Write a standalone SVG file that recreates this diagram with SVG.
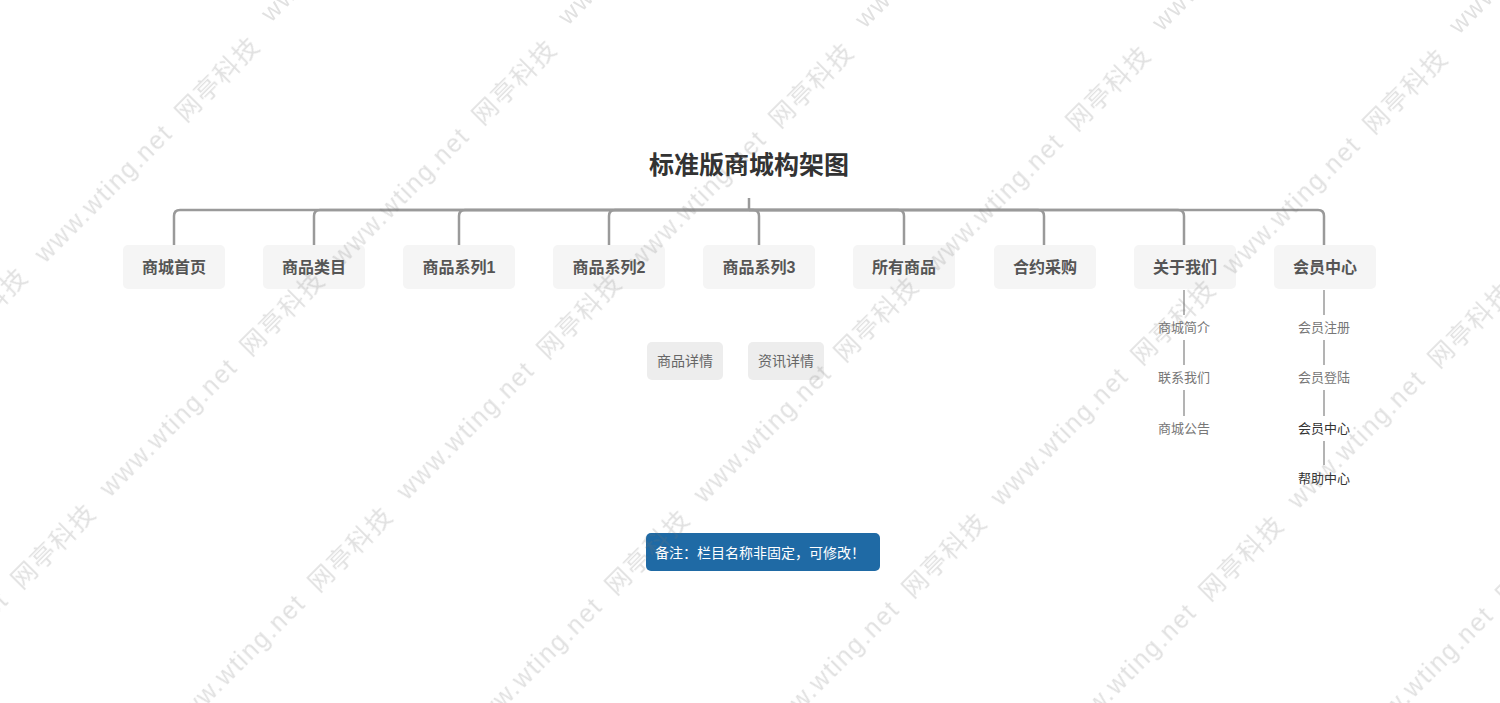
<svg xmlns="http://www.w3.org/2000/svg" xmlns:xlink="http://www.w3.org/1999/xlink" width="1500" height="703" viewBox="0 0 1500 703">
<style>
text{font-family:"Liberation Sans","Noto Sans CJK SC",sans-serif;dominant-baseline:central}
.title{font-size:25px;font-weight:bold;fill:#333;text-anchor:middle}
.box{fill:#f5f5f5}
.lbl{font-size:16px;font-weight:bold;fill:#555;text-anchor:middle}
.sbox{fill:#ededed}
.slbl{font-size:14px;fill:#666;text-anchor:middle}
.leaf{font-size:13px;fill:#777;text-anchor:middle}
.leaf.dark{fill:#333}
.conn{fill:none;stroke:#9a9a9a;stroke-width:2.5}
.thin{fill:none;stroke:#9a9a9a;stroke-width:1.5}
.note{fill:#1f6aa5}
.notet{font-size:14px;fill:#fff}
text.wmt{font-size:25px;fill:#777;dominant-baseline:alphabetic}
</style>
<defs>
<g id="wm" transform="rotate(-45)"><text class="wmt" textLength="181" lengthAdjust="spacing">www.wting.net</text><text class="wmt" x="199" textLength="106" lengthAdjust="spacing">网亭科技</text></g>
</defs>
<rect width="1500" height="703" fill="#fff"/>

<g id="title"><text class="title" x="749" y="165">标准版商城构架图</text></g>

<g id="connectors">
<path class="conn" d="M749 198V210"/>
<path class="conn" d="M749 210H180Q174 210 174 216V245"/>
<path class="conn" d="M749 210H320Q314 210 314 216V245"/>
<path class="conn" d="M749 210H465Q459 210 459 216V245"/>
<path class="conn" d="M749 210H615Q609 210 609 216V245"/>
<path class="conn" d="M749 210H753Q759 210 759 216V245"/>
<path class="conn" d="M749 210H898Q904 210 904 216V245"/>
<path class="conn" d="M749 210H1038Q1044 210 1044 216V245"/>
<path class="conn" d="M749 210H1178Q1184 210 1184 216V245"/>
<path class="conn" d="M749 210H1318Q1324 210 1324 216V245"/>
<path class="thin" d="M1184 290V315M1184 340V365M1184 390V416"/>
<path class="thin" d="M1324 290V315M1324 340V365M1324 390V416M1324 441V465"/>
</g>

<g id="n1"><rect class="box" x="123" y="245" width="102" height="44" rx="5"/><text class="lbl" x="174" y="267">商城首页</text></g>
<g id="n2"><rect class="box" x="263" y="245" width="102" height="44" rx="5"/><text class="lbl" x="314" y="267">商品类目</text></g>
<g id="n3"><rect class="box" x="403" y="245" width="112" height="44" rx="5"/><text class="lbl" x="459" y="267">商品系列1</text></g>
<g id="n4"><rect class="box" x="553" y="245" width="112" height="44" rx="5"/><text class="lbl" x="609" y="267">商品系列2</text></g>
<g id="n5"><rect class="box" x="703" y="245" width="112" height="44" rx="5"/><text class="lbl" x="759" y="267">商品系列3</text></g>
<g id="n6"><rect class="box" x="853" y="245" width="102" height="44" rx="5"/><text class="lbl" x="904" y="267">所有商品</text></g>
<g id="n7"><rect class="box" x="994" y="245" width="102" height="44" rx="5"/><text class="lbl" x="1045" y="267">合约采购</text></g>
<g id="n8"><rect class="box" x="1134" y="245" width="102" height="44" rx="5"/><text class="lbl" x="1185" y="267">关于我们</text></g>
<g id="n9"><rect class="box" x="1274" y="245" width="102" height="44" rx="5"/><text class="lbl" x="1325" y="267">会员中心</text></g>

<g id="s1"><rect class="sbox" x="647" y="342" width="76" height="38" rx="5"/><text class="slbl" x="685" y="361">商品详情</text></g>
<g id="s2"><rect class="sbox" x="748" y="342" width="76" height="38" rx="5"/><text class="slbl" x="786" y="361">资讯详情</text></g>

<g id="a1"><text class="leaf" x="1184" y="327">商城简介</text></g>
<g id="a2"><text class="leaf" x="1184" y="377.5">联系我们</text></g>
<g id="a3"><text class="leaf" x="1184" y="428">商城公告</text></g>
<g id="m1"><text class="leaf" x="1324" y="327">会员注册</text></g>
<g id="m2"><text class="leaf" x="1324" y="377.5">会员登陆</text></g>
<g id="m3"><text class="leaf dark" x="1324" y="428">会员中心</text></g>
<g id="m4"><text class="leaf dark" x="1324" y="478">帮助中心</text></g>

<g id="note"><rect class="note" x="646" y="533" width="234" height="38" rx="5"/><text class="notet" x="655" y="552.5">备注：栏目名称非固定，可修改！</text></g>

<g id="watermark" opacity="0.22">
<use xlink:href="#wm" x="271" y="23"/><use xlink:href="#wm" x="568" y="26"/><use xlink:href="#wm" x="865" y="29"/><use xlink:href="#wm" x="1162" y="32"/><use xlink:href="#wm" x="1459" y="35"/>
<use xlink:href="#wm" x="45" y="264"/><use xlink:href="#wm" x="342" y="267"/><use xlink:href="#wm" x="639" y="270"/><use xlink:href="#wm" x="936" y="273"/><use xlink:href="#wm" x="1233" y="276"/>
<use xlink:href="#wm" x="-187" y="495"/><use xlink:href="#wm" x="110" y="498"/><use xlink:href="#wm" x="407" y="501"/><use xlink:href="#wm" x="704" y="504"/><use xlink:href="#wm" x="1001" y="507"/><use xlink:href="#wm" x="1298" y="510"/>
<use xlink:href="#wm" x="-119" y="731"/><use xlink:href="#wm" x="178" y="734"/><use xlink:href="#wm" x="475" y="737"/><use xlink:href="#wm" x="772" y="740"/><use xlink:href="#wm" x="1069" y="743"/><use xlink:href="#wm" x="1366" y="746"/>
</g>
</svg>
